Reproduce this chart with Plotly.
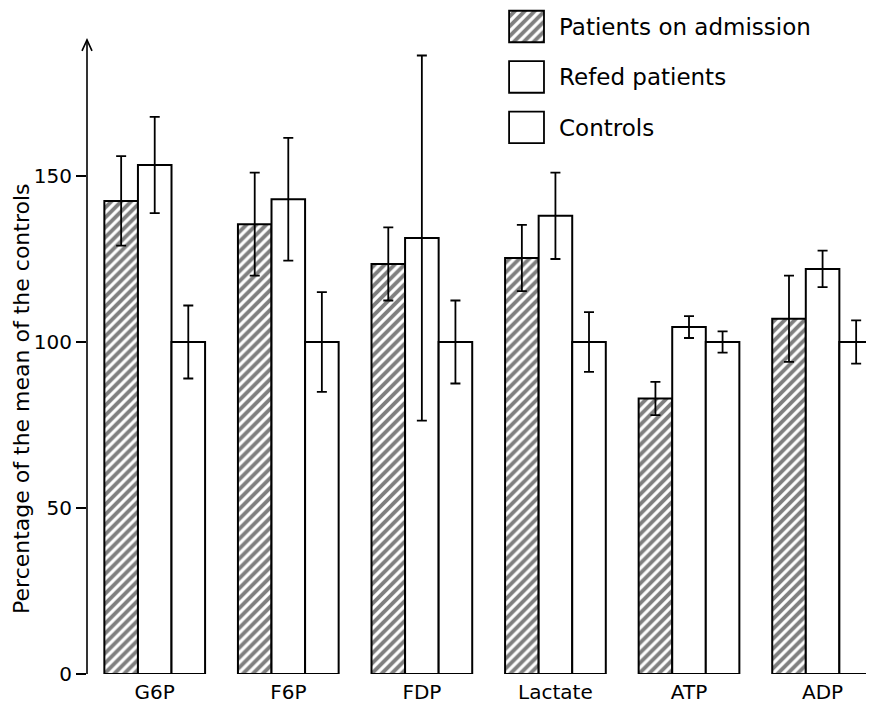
import plotly.graph_objects as go

categories = ["G6P", "F6P", "FDP", "Lactate", "ATP", "ADP"]
admission = [142.5, 135.5, 123.5, 125.3, 83.0, 107.0]
admission_err = [13.5, 15.5, 11.0, 10.0, 5.0, 13.0]
refed = [153.3, 143.0, 131.3, 138.0, 104.5, 122.0]
refed_err = [14.5, 18.5, 55.0, 13.0, 3.3, 5.5]
controls = [100.0, 100.0, 100.0, 100.0, 100.0, 100.0]
controls_err = [11.0, 15.0, 12.5, 9.0, 3.2, 6.5]

series_names = ["Patients on admission", "Refed patients", "Controls"]
y_ticks = [0, 50, 100, 150]
y_title = "Percentage of the mean of the controls"

FONT = "DejaVu Sans"
LINE = dict(color="black", width=2)
ERR = dict(type="data", thickness=1.8, width=5, color="black")
PAT = dict(fgcolor="black", bgcolor="white", size=7, solidity=0.55)

fig = go.Figure()
specs = [
    (series_names[0], admission, admission_err, "/"),
    (series_names[1], refed, refed_err, ""),
    (series_names[2], controls, controls_err, ""),
]
for name, vals, errs, shp in specs:
    fig.add_trace(go.Bar(
        name=name, x=categories, y=vals,
        error_y=dict(array=errs, **ERR),
        marker=dict(color="white", line=LINE, pattern=dict(shape=shp, **PAT)),
        showlegend=False,
    ))

# legend drawn as an inset axis
fig.add_trace(go.Bar(
    x=[1, 1, 1], y=[2, 1, 0], base=0, orientation="h", width=0.624,
    marker=dict(color="white", line=dict(color="black", width=1.8),
                pattern=dict(shape=["/", "", ""], **PAT)),
    xaxis="x2", yaxis="y2", showlegend=False, hoverinfo="skip",
))

fig.update_layout(
    width=866, height=703,
    margin=dict(l=79, r=0, t=0, b=37, autoexpand=False),
    paper_bgcolor="white", plot_bgcolor="white",
    barmode="group", bargap=0.246, bargroupgap=0,
    font=dict(family=FONT, color="black"),
    xaxis=dict(range=[-0.507, 5.385], showgrid=False, zeroline=False, showline=False,
               ticks="", tickfont=dict(size=20), ticklabelstandoff=4, automargin=False),
    yaxis=dict(range=[0, 200.6], tickvals=y_ticks, showgrid=False, zeroline=False,
               showline=False, ticks="outside", ticklen=10, tickwidth=1.5,
               tickcolor="black", tickfont=dict(size=20), automargin=False),
    xaxis2=dict(domain=[0.535, 0.582], range=[-0.03, 1.03], anchor="y2",
                showgrid=False, zeroline=False, showticklabels=False, showline=False,
                automargin=False),
    yaxis2=dict(domain=[0.7868, 1.0], range=[-0.446, 2.366], anchor="x2", side="right",
                tickvals=[2, 1, 0], ticktext=series_names, ticks="",
                showgrid=False, zeroline=False, showline=False, automargin=False,
                tickfont=dict(size=23), ticklabelstandoff=13),
)

fig.add_shape(type="line", xref="paper", yref="y", x0=0, x1=0, y0=0, y1=191,
              line=dict(color="black", width=1.6))
fig.add_shape(type="path", xref="paper", yref="y", xsizemode="pixel", ysizemode="pixel",
              xanchor=0, yanchor=191, path="M -5,-11 L 0,0 L 5,-11",
              line=dict(color="black", width=1.6))

fig.add_annotation(text=y_title, xref="paper", yref="paper", x=-0.0826, y=0.413,
                   textangle=-90, showarrow=False, xanchor="center", yanchor="middle",
                   borderpad=0, font=dict(size=22))

fig.write_html("out.html")
